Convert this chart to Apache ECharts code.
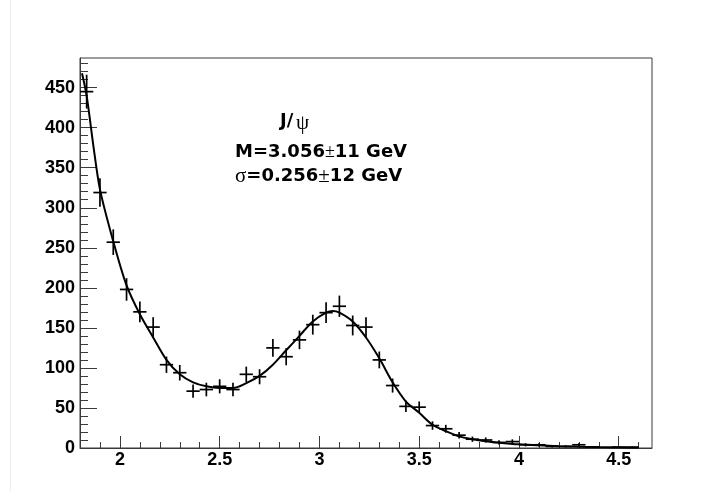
<!DOCTYPE html>
<html>
<head>
<meta charset="utf-8">
<script src="https://cdn.jsdelivr.net/npm/echarts@6/dist/echarts.min.js"></script>
<style>
  html, body { margin: 0; padding: 0; background: #fff; }
  #chart { width: 718px; height: 491px; }
</style>
</head>
<body>
<div id="chart"></div>
<script>
// Invariant-mass histogram (bin centres, counts, Poisson errors)
const binCenters = [1.8333, 1.9, 1.9667, 2.0333, 2.1, 2.1667, 2.2333, 2.3, 2.3667, 2.4333,
  2.5, 2.5667, 2.6333, 2.7, 2.7667, 2.8333, 2.9, 2.9667, 3.0333, 3.1,
  3.1667, 3.2333, 3.3, 3.3667, 3.4333, 3.5, 3.5667, 3.6333, 3.7, 3.7667,
  3.8333, 3.9, 3.9667, 4.0333, 4.1, 4.1667, 4.2333, 4.3, 4.3667, 4.4333,
  4.5, 4.5667, 4.6333];
const counts = [445, 319, 257, 198, 170, 151, 104, 94, 71, 73,
  77, 73, 92, 89, 125, 114, 135, 154, 169, 177,
  153, 151, 110, 78, 52, 51, 28, 24, 16, 11,
  10, 7, 8, 4, 4, 2, 2, 4, 1, 0,
  1, 1, 0];
const countErrors = [21.1, 17.9, 16.0, 14.1, 13.0, 12.3, 10.2, 9.7, 8.4, 8.5,
  8.8, 8.5, 9.6, 9.4, 11.2, 10.7, 11.6, 12.4, 13.0, 13.3,
  12.4, 12.3, 10.5, 8.8, 7.2, 7.1, 5.3, 4.9, 4.0, 3.3,
  3.2, 2.6, 2.8, 2.0, 2.0, 1.4, 1.4, 2.0, 1.0, 0,
  1.0, 1.0, 0];

// Fitted curve (background + Gaussian peak), sampled
const fitX = [1.81, 1.8333, 1.8667, 1.9, 1.9667, 2.0333, 2.1, 2.1667, 2.2333, 2.3,
  2.3667, 2.4333, 2.5, 2.5667, 2.6333, 2.7, 2.7667, 2.8333, 2.9, 2.9667,
  3.0333, 3.0667, 3.1, 3.1667, 3.2333, 3.3, 3.3667, 3.4333, 3.5, 3.5667,
  3.6333, 3.7, 3.7667, 3.8333, 3.9, 4.0, 4.1, 4.2, 4.3, 4.4, 4.5, 4.6];
const fitY = [468, 440, 378, 323, 258, 203, 167, 138, 110, 92,
  82, 77, 75, 75, 81, 90, 104, 122, 140, 158,
  169, 171, 169, 158, 138, 112, 82, 58, 44, 29,
  21, 14.5, 11, 8.5, 6.7, 4.6, 3.3, 2.3, 1.6, 1.1, 0.8, 0.5];

// Axis ticks
const xMajorTicks = [2, 2.5, 3, 3.5, 4, 4.5];
const xMinorTicks = [1.9, 2.0, 2.1, 2.2, 2.3, 2.4, 2.5, 2.6, 2.7, 2.8, 2.9, 3.0, 3.1, 3.2,
  3.3, 3.4, 3.5, 3.6, 3.7, 3.8, 3.9, 4.0, 4.1, 4.2, 4.3, 4.4, 4.5, 4.6];
const yMajorTicks = [0, 50, 100, 150, 200, 250, 300, 350, 400, 450];
const yMinorTicks = [10, 20, 30, 40, 60, 70, 80, 90, 110, 120, 130, 140, 160, 170, 180, 190,
  210, 220, 230, 240, 260, 270, 280, 290, 310, 320, 330, 340, 360, 370, 380, 390,
  410, 420, 430, 440, 460, 470, 480];

const xMin = 1.8, xMax = 4.6667;
const yMin = 0, yMax = 487;

const halfBin = (binCenters[1] - binCenters[0]) / 2;
const histPoints = [];
binCenters.forEach((x, i) => {
  if (counts[i] > 0) histPoints.push([x, counts[i], countErrors[i]]);
});
const fitPoints = fitX.map((x, i) => [x, fitY[i]]);

const axisColor = '#3a3a3a';
const labelFont = { fontFamily: 'Liberation Sans', fontWeight: 'bold', fontSize: 18, color: '#000' };

const chart = echarts.init(document.getElementById('chart'), null, { renderer: 'canvas' });
chart.setOption({
  animation: false,
  backgroundColor: '#fff',
  grid: {
    left: 80, top: 58, width: 572, height: 390,
    show: true, borderColor: axisColor, borderWidth: 1, backgroundColor: 'transparent'
  },
  xAxis: [
    {
      type: 'value', min: xMin, max: xMax, position: 'bottom',
      axisLine: { show: true, onZero: false, lineStyle: { color: axisColor, width: 1 } },
      axisTick: { show: true, inside: true, length: 6, customValues: xMinorTicks,
        lineStyle: { color: axisColor, width: 1 } },
      axisLabel: { show: false },
      splitLine: { show: false }
    },
    {
      type: 'value', min: xMin, max: xMax, position: 'bottom',
      axisLine: { show: false, onZero: false },
      axisTick: { show: true, inside: true, length: 12, customValues: xMajorTicks,
        lineStyle: { color: axisColor, width: 1 } },
      axisLabel: Object.assign({ show: true, margin: 3, customValues: xMajorTicks }, labelFont),
      splitLine: { show: false }
    }
  ],
  yAxis: [
    {
      type: 'value', min: yMin, max: yMax, position: 'left',
      axisLine: { show: true, onZero: false, lineStyle: { color: axisColor, width: 1 } },
      axisTick: { show: true, inside: true, length: 8, customValues: yMinorTicks,
        lineStyle: { color: axisColor, width: 1 } },
      axisLabel: { show: false },
      splitLine: { show: false }
    },
    {
      type: 'value', min: yMin, max: yMax, position: 'left',
      axisLine: { show: false, onZero: false },
      axisTick: { show: true, inside: true, length: 17, customValues: yMajorTicks,
        lineStyle: { color: axisColor, width: 1 } },
      axisLabel: Object.assign({ show: true, margin: 5, customValues: yMajorTicks }, labelFont),
      splitLine: { show: false }
    }
  ],
  series: [
    {
      type: 'custom',
      xAxisIndex: 0, yAxisIndex: 0,
      data: histPoints,
      encode: { x: 0, y: 1 },
      z: 3,
      renderItem: function (params, api) {
        const x = api.value(0), y = api.value(1), e = api.value(2);
        const c = api.coord([x, y]);
        const hi = api.coord([x, y + e]);
        const lo = api.coord([x, Math.max(y - e, 0)]);
        const l = api.coord([x - halfBin, y]);
        const r = api.coord([x + halfBin, y]);
        const st = { stroke: '#000', lineWidth: 1.7 };
        return {
          type: 'group',
          children: [
            { type: 'line', shape: { x1: c[0], y1: hi[1], x2: c[0], y2: lo[1] }, style: st },
            { type: 'line', shape: { x1: l[0], y1: c[1], x2: r[0], y2: c[1] }, style: st }
          ]
        };
      }
    },
    {
      type: 'line',
      xAxisIndex: 0, yAxisIndex: 0,
      data: fitPoints,
      smooth: 0.3,
      showSymbol: false,
      symbol: 'none',
      z: 4,
      lineStyle: { color: '#000', width: 2 }
    }
  ],
  graphic: [
    { type: 'line', shape: { x1: 10.5, y1: 0, x2: 10.5, y2: 491 },
      style: { stroke: '#ececec', lineWidth: 1 } },
    { type: 'text', x: 280, y: 121,
      style: { text: 'J/', fontFamily: 'DejaVu Sans', fontWeight: 'bold', fontSize: 18,
        fill: '#000', verticalAlign: 'middle' } },
    { type: 'text', x: 296, y: 123,
      style: { text: 'ψ', fontFamily: 'Liberation Serif', fontSize: 21,
        fill: '#000', verticalAlign: 'middle' } },
    { type: 'text', x: 235, y: 152,
      style: {
        text: '{b|M=3.056}{s|±}{b|11 GeV}',
        verticalAlign: 'middle',
        rich: {
          b: { fontFamily: 'DejaVu Sans', fontWeight: 'bold', fontSize: 18, fill: '#000' },
          s: { fontFamily: 'Liberation Serif', fontSize: 18, fill: '#000' }
        }
      } },
    { type: 'text', x: 235, y: 176,
      style: {
        text: '{s|σ}{b|=0.256}{s|±}{b|12 GeV}',
        verticalAlign: 'middle',
        rich: {
          b: { fontFamily: 'DejaVu Sans', fontWeight: 'bold', fontSize: 18, fill: '#000' },
          s: { fontFamily: 'Liberation Serif', fontSize: 21, fill: '#000' }
        }
      } }
  ]
});
</script>
</body>
</html>
